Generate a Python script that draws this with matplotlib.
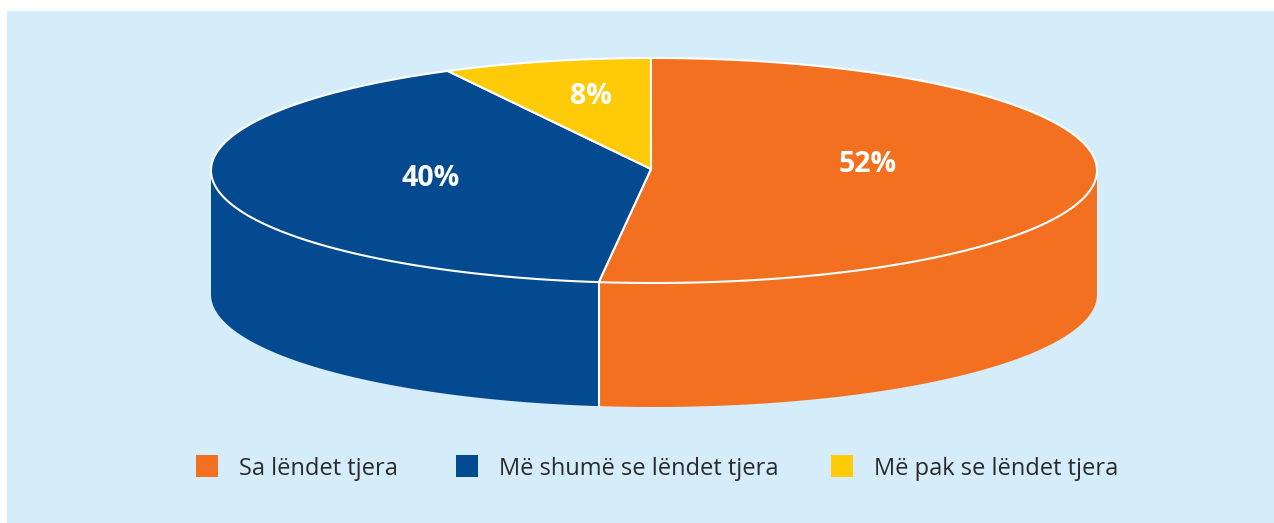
import numpy as np
import matplotlib
matplotlib.use("Agg")
import matplotlib.pyplot as plt
from matplotlib.patches import Polygon, Rectangle

labels = ["Sa lëndet tjera", "Më shumë se lëndet tjera", "Më pak se lëndet tjera"]
values = [52.1, 40.3, 7.6]
colors = ["#F47021", "#034A91", "#FFCB08"]
panel = "#D5EDFA"

cx, cy = 654, 170.5
rx, ry = 443, 112.5
apex = (651, 169)
depth = 124

W, H = 1274, 523
fig = plt.figure(figsize=(W / 100, H / 100), dpi=100, facecolor="white")
ax = fig.add_axes([0, 0, 1, 1])
ax.set_xlim(0, W)
ax.set_ylim(H, 0)
ax.axis("off")
plt.rcParams["font.family"] = ["Open Sans", "DejaVu Sans"]

ax.add_patch(Rectangle((7, 11), W - 7, H - 11, fc=panel, ec="none", zorder=0))


def arc(a0, a1):
    t = np.radians(np.linspace(a0, a1, 300))
    return cx + rx * np.cos(t), cy - ry * np.sin(t)


# slices go clockwise from the top
start = 90.4
angles = [start]
for v in values:
    angles.append(angles[-1] - v * 3.6)

# side walls, only the front half of the ellipse shows
for i, c in enumerate(colors):
    a0, a1 = angles[i], angles[i + 1]
    lo = max(a1, -180)
    hi = min(a0, 0)
    if lo >= hi:
        continue
    x, y = arc(hi, lo)
    pts = np.r_[np.c_[x, y], np.c_[x[::-1], y[::-1] + depth]]
    ax.add_patch(Polygon(pts, fc=c, ec="none", zorder=1))

# white seam between the two walls
xs, ys = arc(angles[1], angles[1])
ax.plot([xs[0], xs[0]], [ys[0], ys[0] + depth], color="white", lw=1.5, zorder=2)

# top face
for i, c in enumerate(colors):
    x, y = arc(angles[i], angles[i + 1])
    pts = np.r_[[apex], np.c_[x, y]]
    ax.add_patch(Polygon(pts, closed=True, fc=c, ec="white", lw=1.5, joinstyle="round", zorder=3))

pct_pos = [(868, 164.5), (431, 179), (591, 97)]
for v, (px, py) in zip(values, pct_pos):
    ax.text(px, py, "%.0f%%" % v, color="white", fontsize=20.5, fontweight="bold",
            ha="center", va="center", zorder=4)

square_x = [196, 456, 831]
text_x = [239, 499, 874]
for s, tx, c, lab in zip(square_x, text_x, colors, labels):
    ax.add_patch(Rectangle((s, 455), 22, 22, fc=c, ec="none", zorder=2))
    ax.text(tx, 469, lab, color="#2B2A2E", fontsize=17, ha="left", va="center", zorder=2)

fig.savefig("out.png", dpi=100, facecolor="white")
